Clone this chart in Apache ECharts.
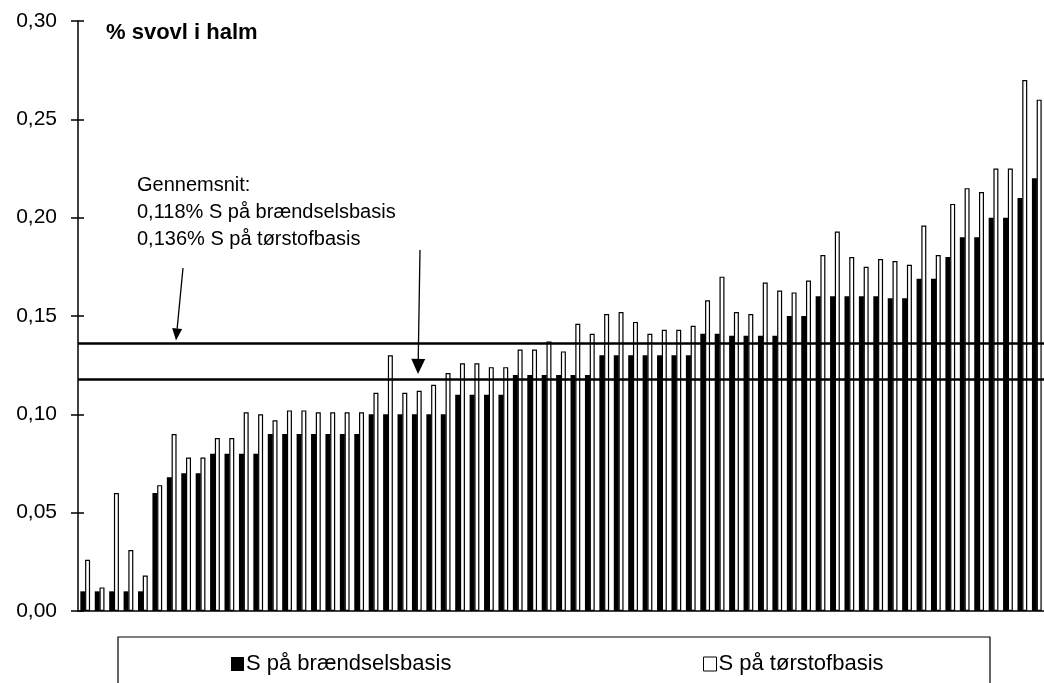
<!DOCTYPE html>
<html>
<head>
<meta charset="utf-8">
<script src="https://cdn.jsdelivr.net/npm/echarts@6/dist/echarts.min.js"></script>
<style>
html,body{margin:0;padding:0;background:#fff;}
#chart{width:1044px;height:683px;}
</style>
</head>
<body>
<div id="chart"></div>
<script>
// Sample numbers 1..67 (sorted samples, no labels shown)
const categories = Array.from({length: 67}, (_, i) => String(i + 1));

// % S on fuel basis (black bars)
const brandsel = [
  0.010, 0.010, 0.010, 0.010, 0.010, 0.060, 0.068, 0.070, 0.070, 0.080,
  0.080, 0.080, 0.080, 0.090, 0.090, 0.090, 0.090, 0.090, 0.090, 0.090,
  0.100, 0.100, 0.100, 0.100, 0.100, 0.100, 0.110, 0.110, 0.110, 0.110,
  0.120, 0.120, 0.120, 0.120, 0.120, 0.120, 0.130, 0.130, 0.130, 0.130,
  0.130, 0.130, 0.130, 0.141, 0.141, 0.140, 0.140, 0.140, 0.140, 0.150,
  0.150, 0.160, 0.160, 0.160, 0.160, 0.160, 0.159, 0.159, 0.169, 0.169,
  0.180, 0.190, 0.190, 0.200, 0.200, 0.210, 0.220
];

// % S on dry matter basis (white bars)
const torstof = [
  0.026, 0.012, 0.060, 0.031, 0.018, 0.064, 0.090, 0.078, 0.078, 0.088,
  0.088, 0.101, 0.100, 0.097, 0.102, 0.102, 0.101, 0.101, 0.101, 0.101,
  0.111, 0.130, 0.111, 0.112, 0.115, 0.121, 0.126, 0.126, 0.124, 0.124,
  0.133, 0.133, 0.137, 0.132, 0.146, 0.141, 0.151, 0.152, 0.147, 0.141,
  0.143, 0.143, 0.145, 0.158, 0.170, 0.152, 0.151, 0.167, 0.163, 0.162,
  0.168, 0.181, 0.193, 0.180, 0.175, 0.179, 0.178, 0.176, 0.196, 0.181,
  0.207, 0.215, 0.213, 0.225, 0.225, 0.270, 0.260
];

// Averages (horizontal reference lines)
const meanBrandsel = 0.118;
const meanTorstof = 0.136;

const yTicks = [0, 0.05, 0.10, 0.15, 0.20, 0.25, 0.30];

const seriesNames = ['S på brændselsbasis', 'S på tørstofbasis'];
const titleText = '% svovl i halm';
const noteLines = ['Gennemsnit:', '0,118% S på brændselsbasis', '0,136% S på tørstofbasis'];

const FONT = '"Liberation Sans", Arial, sans-serif';

const chart = echarts.init(document.getElementById('chart'), null, {renderer: 'canvas'});

const yMin = yTicks[0], yMax = yTicks[yTicks.length - 1], yInt = yTicks[1] - yTicks[0];

const option = {
  backgroundColor: '#fff',
  animation: false,
  title: {
    text: titleText,
    left: 101,
    top: 17,
    textStyle: {fontFamily: FONT, fontSize: 22, fontWeight: 'bold', color: '#000'}
  },
  grid: {left: 78, right: 0, top: 21, bottom: 72, containLabel: false},
  legend: [
    {
      data: [{name: seriesNames[0], icon: 'rect', itemStyle: {color: '#000'}}],
      left: 231, top: 653, padding: 0, itemWidth: 13, itemHeight: 14, itemGap: 0,
      selectedMode: false,
      textStyle: {fontFamily: FONT, fontSize: 22, color: '#000', padding: [0, 0, 0, -3]}
    },
    {
      data: [{name: seriesNames[1], icon: 'rect', itemStyle: {color: '#fff', borderColor: '#000', borderWidth: 1}}],
      left: 703, top: 653, padding: 0, itemWidth: 13, itemHeight: 14, itemGap: 0,
      selectedMode: false,
      textStyle: {fontFamily: FONT, fontSize: 22, color: '#000', padding: [0, 0, 0, -3]}
    }
  ],
  xAxis: {
    type: 'category',
    data: categories,
    axisLine: {show: true, lineStyle: {color: '#000', width: 1.5}},
    axisTick: {show: false},
    axisLabel: {show: false},
    splitLine: {show: false}
  },
  yAxis: [
    {
      type: 'value', min: yMin, max: yMax, interval: yInt,
      axisLine: {show: true, lineStyle: {color: '#000', width: 1.5}},
      axisTick: {show: true, length: 7, lineStyle: {color: '#000', width: 1.5}},
      axisLabel: {
        margin: 21, color: '#000', fontFamily: FONT, fontSize: 21,
        formatter: v => v.toFixed(2).replace('.', ',')
      },
      splitLine: {show: false}
    },
    {
      type: 'value', min: yMin, max: yMax, interval: yInt, position: 'left',
      axisLine: {show: false},
      axisTick: {show: true, inside: true, length: 6, lineStyle: {color: '#000', width: 1.5}},
      axisLabel: {show: false},
      splitLine: {show: false}
    }
  ],
  series: [
    {
      name: seriesNames[0],
      type: 'bar',
      data: brandsel,
      barWidth: 5,
      barGap: '-5%',
      barCategoryGap: '30%',
      itemStyle: {color: '#000', borderColor: '#000', borderWidth: 0},
      markLine: {
        silent: true,
        precision: 3,
        symbol: ['none', 'none'],
        label: {show: false},
        lineStyle: {color: '#000', width: 2.5, type: 'solid'},
        data: [{yAxis: meanTorstof}, {yAxis: meanBrandsel}]
      },
      z: 2
    },
    {
      name: seriesNames[1],
      type: 'bar',
      data: torstof,
      barWidth: 5,
      itemStyle: {color: '#fff', borderColor: '#000', borderWidth: 1.2},
      z: 3
    }
  ]
};

chart.setOption(option);

// Annotation text and arrows, anchored to the value scale
const yTop = chart.convertToPixel({yAxisIndex: 0}, meanTorstof);
const yLow = chart.convertToPixel({yAxisIndex: 0}, meanBrandsel);

const graphics = [];
noteLines.forEach((t, i) => {
  graphics.push({
    type: 'text', left: 137, top: 175 + i * 27, silent: true,
    style: {text: t, fontFamily: FONT, fontSize: 20, fill: '#000'}
  });
});

function arrow(x1, y1, x2, y2, hw, hl) {
  const ang = Math.atan2(y2 - y1, x2 - x1);
  const bx = x2 - hl * Math.cos(ang), by = y2 - hl * Math.sin(ang);
  const px = -Math.sin(ang) * hw, py = Math.cos(ang) * hw;
  graphics.push({type: 'line', silent: true,
    shape: {x1: x1, y1: y1, x2: bx, y2: by},
    style: {stroke: '#000', lineWidth: 1.3}});
  graphics.push({type: 'polygon', silent: true,
    shape: {points: [[x2, y2], [bx + px, by + py], [bx - px, by - py]]},
    style: {fill: '#000'}});
}
arrow(183, 268, 176, yTop - 3, 5, 12);
arrow(420, 250, 418, yLow - 5, 7, 15);

// Legend frame
graphics.push({
  type: 'rect', silent: true, z: -1,
  shape: {x: 118, y: 637, width: 872, height: 70},
  style: {fill: 'none', stroke: '#000', lineWidth: 1.2}
});

chart.setOption({graphic: graphics});
</script>
</body>
</html>
